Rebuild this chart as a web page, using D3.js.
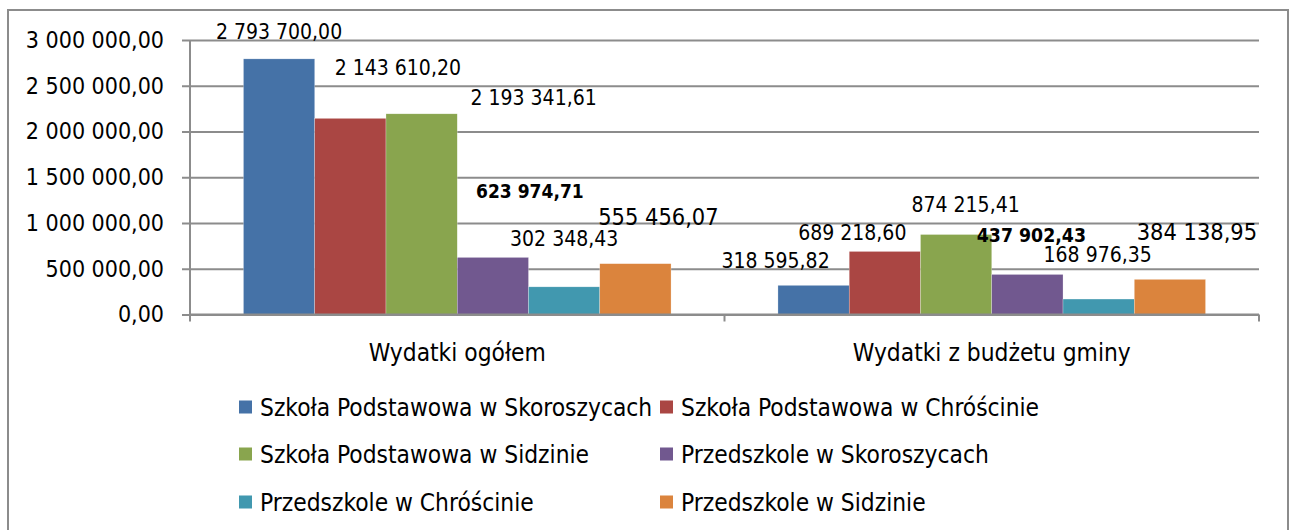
<!DOCTYPE html>
<html>
<head>
<meta charset="utf-8">
<script src="https://cdn.jsdelivr.net/npm/d3@7"></script>
<style>
  body { margin: 0; background: #fff; }
  text { font-family: "DejaVu Sans Condensed", "DejaVu Sans", sans-serif; font-stretch: condensed; fill: #000; }
</style>
</head>
<body>
<script>
const categories = ['Wydatki ogółem', 'Wydatki z budżetu gminy'];
const seriesNames = [
  'Szkoła Podstawowa w Skoroszycach',
  'Szkoła Podstawowa w Chróścinie',
  'Szkoła Podstawowa w Sidzinie',
  'Przedszkole w Skoroszycach',
  'Przedszkole w Chróścinie',
  'Przedszkole w Sidzinie'
];
// values per series: [ogółem, z budżetu gminy]
const spSkoroszyce = [2793700.00, 318595.82];
const spChroscina  = [2143610.20, 689218.60];
const spSidzina    = [2193341.61, 874215.41];
const pSkoroszyce  = [623974.71, 437902.43];
const pChroscina   = [302348.43, 168976.35];
const pSidzina     = [555456.07, 384138.95];
const yTicks = [0, 500000, 1000000, 1500000, 2000000, 2500000, 3000000];

const seriesValues = [spSkoroszyce, spChroscina, spSidzina, pSkoroszyce, pChroscina, pSidzina];
const colors = ['#4572a7', '#aa4643', '#89a54e', '#71588f', '#4198af', '#db843d'];

// labels were moved by hand in the original, so keep their nudges here
// [category][series] -> [dx, dy, size, bold]
const labelNudge = [
  [[0, -27, 21, 0], [47.5, -50, 21, 0], [112, -16, 21, 0], [37, -66, 19, 1], [0, -48, 21, 0], [23, -47, 23.4, 0]],
  [[-38, -24, 21, 0], [-32.5, -18, 21, 0], [9.5, -29.5, 21, 0], [4, -39, 19.3, 1], [-1, -44, 21, 0], [27, -47, 23.4, 0]]
];

const pl = d3.formatLocale({decimal: ',', thousands: ' ', grouping: [3], currency: ['', '']});
const fmt = pl.format(',.2f');

const svg = d3.select('body').append('svg')
              .attr('width', 1292)
              .attr('height', 530);

svg.append('rect')
   .attr('x', 8).attr('y', 10).attr('width', 1280).attr('height', 540)
   .style('fill', '#fff').style('stroke', '#8c8c8c').style('stroke-width', 2);

const plotL = 190, plotR = 1259, plotT = 40, plotB = 314.5;

const y = d3.scaleLinear().domain([0, 3000000]).range([plotB, plotT]);
const x0 = d3.scaleBand().domain(categories).range([plotL, plotR]);
const x1 = d3.scaleBand().domain(d3.range(seriesNames.length))
             .range([0, x0.bandwidth()]).paddingInner(0).paddingOuter(0.75);

// gridlines + y axis
const yAxis = svg.append('g')
   .attr('transform', `translate(${plotL},0)`)
   .call(d3.axisLeft(y).tickValues(yTicks).tickFormat(fmt).tickSize(8).tickPadding(18));
yAxis.select('.domain').remove();
yAxis.selectAll('.tick line').style('stroke', '#8c8c8c').style('stroke-width', 2)
     .attr('x2', plotR - plotL).attr('x1', -8);
yAxis.attr('font-family', null).attr('font-size', null);
yAxis.selectAll('.tick text').style('font-size', '23px').attr('fill', '#000');

svg.append('line')
   .attr('x1', plotL).attr('x2', plotL).attr('y1', plotT).attr('y2', plotB + 6)
   .style('stroke', '#8c8c8c').style('stroke-width', 2);

// bars
const groups = svg.selectAll('g.cat').data(categories).enter().append('g')
   .attr('class', 'cat')
   .attr('transform', d => `translate(${x0(d)},0)`);

groups.each(function(cat, ci) {
  const g = d3.select(this);
  seriesValues.forEach((vals, si) => {
    g.append('rect')
     .attr('x', x1(si)).attr('width', x1.bandwidth())
     .attr('y', y(vals[ci])).attr('height', plotB - y(vals[ci]))
     .style('fill', colors[si])
     .style('stroke', '#fff').style('stroke-width', 0.5).style('stroke-opacity', 0.5);
  });
});

// x axis
svg.append('line')
   .attr('x1', plotL).attr('x2', plotR).attr('y1', plotB).attr('y2', plotB)
   .style('stroke', '#8c8c8c').style('stroke-width', 2);
[plotL, x0(categories[1]), plotR].forEach(t => {
  svg.append('line').attr('x1', t).attr('x2', t).attr('y1', plotB).attr('y2', plotB + 7)
     .style('stroke', '#8c8c8c').style('stroke-width', 2);
});
svg.selectAll('text.cat').data(categories).enter().append('text')
   .attr('class', 'cat')
   .attr('x', d => x0(d) + x0.bandwidth() / 2).attr('y', 352)
   .attr('text-anchor', 'middle').attr('dominant-baseline', 'central')
   .style('font-size', '24.3px')
   .text(d => d);

// data labels
groups.each(function(cat, ci) {
  const g = d3.select(this);
  seriesValues.forEach((vals, si) => {
    const n = labelNudge[ci][si];
    g.append('text')
     .attr('x', x1(si) + x1.bandwidth() / 2 + n[0])
     .attr('y', y(vals[ci]) + n[1])
     .attr('text-anchor', 'middle').attr('dominant-baseline', 'central')
     .style('font-size', n[2] + 'px')
     .style('font-weight', n[3] ? 'bold' : 'normal')
     .text(fmt(vals[ci]));
  });
});

// legend
const legend = svg.append('g');
seriesNames.forEach((name, i) => {
  const lx = i % 2 === 0 ? 239 : 660;
  const ly = [407, 454, 502][Math.floor(i / 2)];
  legend.append('rect').attr('x', lx).attr('y', ly - 6.5).attr('width', 13).attr('height', 13)
        .style('fill', colors[i]);
  legend.append('text').attr('x', lx + 21).attr('y', ly)
        .attr('dominant-baseline', 'central')
        .style('font-size', '24.3px')
        .text(name);
});
</script>
</body>
</html>
